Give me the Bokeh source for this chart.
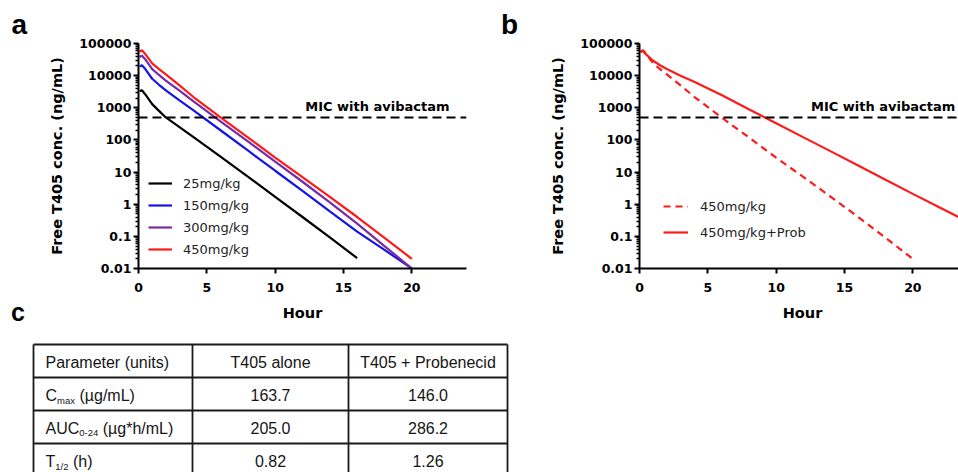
from bokeh.plotting import figure
from bokeh.layouts import column, row
from bokeh.models import Range1d, FixedTicker, Span, Label, Legend, LegendItem, Title
from bokeh.embed import file_html
from bokeh.resources import INLINE
from bokeh.core.properties import value

# ---------------- data ----------------
hours = [0.083, 0.25, 0.5, 1, 1.5, 2, 3, 4, 6, 8, 10, 12, 14, 16, 18, 20]
hours_25 = [0.083, 0.25, 0.5, 1, 1.5, 2, 3, 4, 6, 8, 10, 12, 14, 16]
conc_25 = [3300, 3500, 2600, 1300, 800, 500, 250, 125, 30, 7.2, 1.7, 0.4, 0.093, 0.021]
conc_150 = [19000, 21000, 16000, 8000, 5200, 3500, 1700, 850, 200, 47, 11, 2.6, 0.6, 0.14, 0.038, 0.01]
conc_300 = [38000, 42000, 32000, 16000, 10500, 7000, 3400, 1600, 380, 90, 21, 5, 1.15, 0.25, 0.05, 0.01]
conc_450 = [55000, 62000, 47000, 24000, 16000, 11000, 5000, 2200, 500, 120, 28, 7, 1.7, 0.4, 0.09, 0.02]
hours_prob = [0.083, 0.25, 0.5, 1, 1.5, 2, 3, 4, 6, 8, 10, 12, 14, 16, 18, 20, 22, 24]
conc_450_prob = [55000, 58000, 45000, 29000, 21000, 16000, 10000, 6500, 2500, 900, 330, 120, 44, 16, 5.8, 2.1, 0.78, 0.29]

dose_labels = ["25mg/kg", "150mg/kg", "300mg/kg", "450mg/kg"]
prob_labels = ["450mg/kg", "450mg/kg+Prob"]
x_ticks = [0, 5, 10, 15, 20]
y_ticks = [0.01, 0.1, 1, 10, 100, 1000, 10000, 100000]
y_tick_labels = ["0.01", "0.1", "1", "10", "100", "1000", "10000", "100000"]
mic_value = 500
mic_text = "MIC with avibactam"
y_title = "Free T405 conc. (ng/mL)"
x_title = "Hour"
panel_letters = ["a", "b", "c"]

table_header = ["Parameter (units)", "T405 alone", "T405 + Probenecid"]
param_main = ["C", "AUC", "T"]
param_sub = ["max", "0-24", "1/2"]
param_unit = ["(µg/mL)", "(µg*h/mL)", "(h)"]
alone_vals = ["163.7", "205.0", "0.82"]
prob_vals = ["146.0", "286.2", "1.26"]

# ---------------- layout / styling ----------------
BOLD_FONT = "DejaVu Sans"
COLORS = ["#000000", "#1414e6", "#7a2aa6", "#ff1a1a"]
RED = "#ff1a1a"
PAGE_W, PAGE_H = 958, 472
CHART_H = 297          # the two charts (frame: page y 43..268)
FRAME_TOP, FRAME_BOT = 43, 268
minor_y = [m * 10.0 ** k for k in range(-2, 5) for m in range(2, 10)]


def make_chart(width, left, right, x_end, letter, letter_x):
    p = figure(width=width, height=CHART_H, x_range=Range1d(0, x_end),
               y_range=Range1d(y_ticks[0], y_ticks[-1]), y_axis_type="log",
               output_backend="svg", toolbar_location=None,
               min_border_left=left, min_border_right=right,
               min_border_top=FRAME_TOP, min_border_bottom=CHART_H - FRAME_BOT)
    p.outline_line_color = None
    p.grid.visible = False
    p.title = Title(text=letter, align="left", offset=letter_x - left, standoff=8,
                    text_font="Liberation Sans", text_font_style="bold",
                    text_font_size="28px", text_color="black")
    for ax in (p.xaxis[0], p.yaxis[0]):
        ax.axis_line_width = 2
        ax.axis_line_color = "black"
        ax.major_tick_line_width = 2
        ax.major_tick_line_color = "black"
        ax.major_tick_out = 5
        ax.major_tick_in = 0
        ax.major_label_text_font = BOLD_FONT
        ax.major_label_text_font_style = "bold"
        ax.major_label_text_font_size = "12.5px"
        ax.major_label_text_color = "black"
        ax.axis_label_text_font = BOLD_FONT
        ax.axis_label_text_font_style = "bold"
        ax.axis_label_text_font_size = "14.5px"
        ax.axis_label_text_color = "black"
    xa = p.xaxis[0]
    xa.ticker = FixedTicker(ticks=x_ticks)
    xa.minor_tick_line_color = None
    xa.major_label_standoff = 9
    ya = p.yaxis[0]
    ya.ticker = FixedTicker(ticks=y_ticks, minor_ticks=minor_y)
    ya.major_label_overrides = dict(zip(y_ticks, y_tick_labels))
    ya.minor_tick_out = 3
    ya.minor_tick_in = 0
    ya.minor_tick_line_width = 1.5
    ya.minor_tick_line_color = "black"
    ya.major_label_standoff = 2
    ya.axis_label = y_title
    ya.axis_label_standoff = 11
    p.add_layout(Span(location=mic_value, dimension="width", line_color="black",
                      line_width=2, line_dash="9 5"))
    return p


def legend_kw():
    return dict(padding=0, margin=0, border_line_color=None,
                background_fill_alpha=0, label_text_font="DejaVu Sans",
                label_text_font_size="13px", label_text_color="#222222",
                glyph_height=20, label_height=20)


def mic_label(x):
    return Label(x=x, y=1136, text=mic_text, text_font=BOLD_FONT, text_font_style="bold",
                 text_font_size="13px", text_color="black", text_baseline="middle")


# ---------------- panel a ----------------
pa = make_chart(480, 138, 14, 24, panel_letters[0], 11)
series = [(hours_25, conc_25), (hours, conc_150), (hours, conc_300), (hours, conc_450)]
rends = []
for (hx, cy), col in zip(series, COLORS):
    rends.append(pa.line(hx, cy, line_color=col, line_width=2.2))
pa.add_layout(Legend(items=[LegendItem(label=l, renderers=[r]) for l, r in zip(dose_labels, rends)],
                     location=(10, 9), glyph_width=24, spacing=2, label_standoff=11, **legend_kw()))
pa.add_layout(mic_label(12.2))

# ---------------- panel b ----------------
pb = make_chart(478, 159, 0, (PAGE_W - 639) * 24 / 328, panel_letters[1], 20.5)
r1 = pb.line(hours, conc_450, line_color=RED, line_width=2.2, line_dash="7 5")
r2 = pb.line(hours_prob, conc_450_prob, line_color=RED, line_width=2.2)
pb.add_layout(Legend(items=[LegendItem(label=prob_labels[0], renderers=[r1]),
                            LegendItem(label=prob_labels[1], renderers=[r2])],
                     location=(24, 26), glyph_width=25, spacing=6, label_standoff=12, **legend_kw()))
pb.add_layout(mic_label(12.55))

# ---------------- lower part: x titles, letter c, table ----------------
H = PAGE_H - CHART_H
pc = figure(width=PAGE_W, height=H, x_range=Range1d(0, PAGE_W), y_range=Range1d(H, 0),
            output_backend="svg", toolbar_location=None, min_border=0,
            x_axis_location=None, y_axis_location=None)
pc.outline_line_color = None
pc.grid.visible = False
top = CHART_H  # page y of the lower figure's top edge

pc.text(x=[302, 802], y=[312.5 - top] * 2, text=[x_title, x_title], text_font=value(BOLD_FONT),
        text_font_style="bold", text_font_size="14.5px", text_color="black",
        text_baseline="middle", text_align="center")
pc.text(x=[10.5], y=[311.8 - top], text=[panel_letters[2]], text_font=value("Liberation Sans"),
        text_font_style="bold", text_font_size="25px", text_color="black",
        text_baseline="middle", text_align="left")

col_edges = [33, 192, 348, 507]
row_top = 344 - top
row_h = 33
n_rows = 1 + len(param_main)
hy = [row_top + i * row_h for i in range(n_rows + 1)]
LINE = "#1a1a1a"
pc.segment(x0=[col_edges[0]] * len(hy), x1=[col_edges[-1]] * len(hy), y0=hy, y1=hy,
           line_color=LINE, line_width=1.8)
pc.segment(x0=col_edges, x1=col_edges, y0=[row_top] * len(col_edges), y1=[hy[-1]] * len(col_edges),
           line_color=LINE, line_width=1.8)

FONT = value("Liberation Sans")
FS, SFS = 16, 9.5
ARIAL = {'C': 722, 'A': 667, 'U': 722, 'T': 611, 'm': 833, 'a': 556, 'x': 500,
         '0': 556, '-': 333, '2': 556, '4': 556, '1': 556, '/': 278, ' ': 278}


def adv(s, size):
    return sum(ARIAL.get(ch, 556) for ch in s) * size / 1000.0


text_x0 = col_edges[0] + 12
mid1 = (col_edges[1] + col_edges[2]) / 2
mid2 = (col_edges[2] + col_edges[3]) / 2
cy_rows = [row_top + row_h * (i + 0.5) + 1 for i in range(n_rows)]
TXT = "#151515"
common = dict(text_font=FONT, text_font_size=f"{FS}px", text_baseline="middle", text_color=TXT)

pc.text(x=[text_x0], y=[cy_rows[0]], text=[table_header[0]], text_align="left", **common)
pc.text(x=[mid1, mid2], y=[cy_rows[0]] * 2, text=table_header[1:], text_align="center", **common)

main_x = [text_x0] * len(param_main)
sub_x = [text_x0 + adv(m, FS) for m in param_main]
unit_x = [sx + adv(s, SFS) + adv(" ", FS) for sx, s in zip(sub_x, param_sub)]
rows_y = cy_rows[1:]
pc.text(x=main_x, y=rows_y, text=param_main, text_align="left", **common)
pc.text(x=sub_x, y=[v + 5.4 for v in rows_y], text=param_sub, text_font=FONT,
        text_font_size=f"{SFS}px", text_baseline="middle", text_align="left", text_color=TXT)
pc.text(x=unit_x, y=rows_y, text=param_unit, text_align="left", **common)
pc.text(x=[mid1] * 3, y=rows_y, text=alone_vals, text_align="center", **common)
pc.text(x=[mid2] * 3, y=rows_y, text=prob_vals, text_align="center", **common)

layout = column(row(pa, pb), pc)
open("out.html", "w").write(file_html(layout, INLINE))
